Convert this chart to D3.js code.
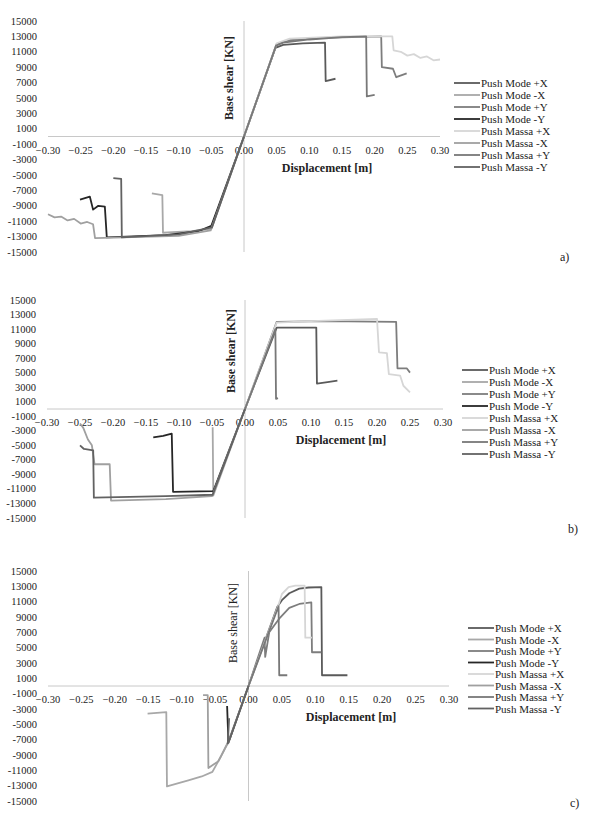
<!DOCTYPE html>
<html>
<head>
<meta charset="utf-8">
<script src="https://cdn.jsdelivr.net/npm/d3@7"></script>
<style>
    body { margin: 0; background: #fff; }
    text { font-family: "Liberation Serif", "Times New Roman", serif; }
</style>
</head>
<body>
<div id="chart"></div>
<script>
// legend / series
var seriesNames = ["Push Mode +X", "Push Mode -X", "Push Mode +Y", "Push Mode -Y",
                   "Push Massa +X", "Push Massa -X", "Push Massa +Y", "Push Massa -Y"];
var seriesColors = ["#5a5a5a", "#a8a8a8", "#7d7d7d", "#262626",
                    "#d6d6d6", "#a0a0a0", "#787878", "#626262"];

var xTicks = [-0.30, -0.25, -0.20, -0.15, -0.10, -0.05, 0.00, 0.05, 0.10, 0.15, 0.20, 0.25, 0.30];
var yTicks = [15000, 13000, 11000, 9000, 7000, 5000, 3000, 1000,
              -1000, -3000, -5000, -7000, -9000, -11000, -13000, -15000];

// panel a) [displacement, base shear]
var aModePX = [[0,0],[0.048,11500],[0.06,11900],[0.09,12100],[0.124,12200],[0.125,7200],[0.14,7500]];
var aModeMX = [[0,0],[-0.05,-12000],[-0.08,-12300],[-0.124,-12500],[-0.125,-7600],[-0.141,-7400]];
var aModePY = [[0,0],[0.05,12000],[0.07,12500],[0.12,12800],[0.21,13000],[0.211,9000],[0.228,8800],[0.233,7700],[0.249,8200]];
var aModeMY = [[0,0],[-0.05,-11600],[-0.07,-12300],[-0.12,-12800],[-0.21,-13100],[-0.213,-9100],[-0.223,-9000],[-0.231,-9500],[-0.236,-7800],[-0.251,-8200]];
var aMassaPX = [[0,0],[0.05,12100],[0.07,12700],[0.15,13000],[0.227,13000],[0.229,11200],[0.24,11000],[0.25,10500],[0.26,10700],[0.27,10200],[0.28,10400],[0.29,9900],[0.30,10000]];
var aMassaMX = [[0,0],[-0.051,-12200],[-0.1,-12900],[-0.228,-13200],[-0.231,-11400],[-0.24,-11100],[-0.25,-11300],[-0.26,-10700],[-0.27,-10900],[-0.28,-10400],[-0.29,-10500],[-0.30,-10100]];
var aMassaPY = [[0,0],[0.049,11800],[0.06,12200],[0.1,12600],[0.15,12900],[0.187,13000],[0.188,5200],[0.2,5400]];
var aMassaMY = [[0,0],[-0.049,-11800],[-0.1,-12700],[-0.187,-13100],[-0.188,-5500],[-0.2,-5400]];

// panel b)
var bModePX = [[0,0],[0.048,11200],[0.108,11200],[0.109,3500],[0.125,3700],[0.14,3900]];
var bModeMX = [[0,0],[-0.048,-11900],[-0.049,-2500]];
var bModePY = [[0,0],[0.048,12000],[0.12,12100],[0.229,12000],[0.231,5600],[0.245,5600],[0.25,5000]];
var bModeMY = [[0,0],[-0.048,-11300],[-0.109,-11400],[-0.111,-3400],[-0.124,-3700],[-0.139,-3900]];
var bMassaPX = [[0,0],[0.048,11900],[0.1,12100],[0.2,12400],[0.203,7800],[0.215,7700],[0.218,4800],[0.235,4600],[0.24,3200],[0.25,2300]];
var bMassaMX = [[0,0],[-0.05,-12000],[-0.12,-12400],[-0.203,-12600],[-0.205,-7600],[-0.228,-7600],[-0.232,-5000],[-0.238,-4200],[-0.245,-2600],[-0.25,-2000]];
var bMassaPY = [[0,0],[0.046,11000],[0.047,1400],[0.05,1500]];
var bMassaMY = [[0,0],[-0.049,-11800],[-0.12,-12000],[-0.229,-12200],[-0.23,-5700],[-0.244,-5500],[-0.25,-5000]];

// panel c)
var cModePX = [[0,0],[0.043,10300],[0.05,11200],[0.061,12100],[0.076,12700],[0.09,12850],[0.109,12900],[0.11,1400],[0.148,1400]];
var cModeMX = [[0,0],[-0.03,-7200],[-0.042,-9300],[-0.054,-11200],[-0.07,-11800],[-0.09,-12300],[-0.122,-13100],[-0.123,-3400],[-0.151,-3600]];
var cModePY = [[0,0],[0.024,6300],[0.025,3800],[0.031,7000],[0.047,8900],[0.061,10200],[0.076,10700],[0.094,10900],[0.095,4400],[0.109,4400]];
var cModeMY = [[0,0],[-0.03,-7400],[-0.032,-2600]];
var cMassaPX = [[0,0],[0.045,10600],[0.05,12000],[0.06,12900],[0.07,13100],[0.084,13100],[0.085,6300],[0.095,6300]];
var cMassaMX = [[0,0],[-0.03,-7300],[-0.045,-9800],[-0.06,-10700],[-0.061,-1200],[-0.068,-1200]];
var cMassaPY = [[0,0],[0.045,10400],[0.046,1400],[0.058,1400]];
var cMassaMY = [[0,0],[-0.028,-6900],[-0.031,-7500],[-0.029,-4200]];

var panelSeries = [
    [aModePX, aModeMX, aModePY, aModeMY, aMassaPX, aMassaMX, aMassaPY, aMassaMY],
    [bModePX, bModeMX, bModePY, bModeMY, bMassaPX, bMassaMX, bMassaPY, bMassaMY],
    [cModePX, cModeMX, cModePY, cModeMY, cMassaPX, cMassaMX, cMassaPY, cMassaMY]
];
var panelLabels = ["a)", "b)", "c)"];

// layout of each panel (pixels)
var layouts = [
    { left: 48, right: 440, top: 21, bottom: 252, legX: 454, legY: 83, legStep: 12,
      dispX: 327, yTitleX: 233, yTitleY: 78, yTitleBold: true, tagX: 560, tagY: 261 },
    { left: 47, right: 443, top: 300, bottom: 518, legX: 462, legY: 370, legStep: 12,
      dispX: 341, yTitleX: 235, yTitleY: 351, yTitleBold: true, tagX: 568, tagY: 533 },
    { left: 48, right: 449, top: 571, bottom: 801, legX: 468, legY: 628, legStep: 11.5,
      dispX: 351, yTitleX: 237, yTitleY: 623, yTitleBold: false, tagX: 570, tagY: 807 }
];

var svg = d3.select("#chart").append("svg")
    .attr("width", 600)
    .attr("height", 816);

layouts.forEach(function(L, p)
{
    var x = d3.scaleLinear().domain([-0.3, 0.3]).range([L.left, L.right]);
    var y = d3.scaleLinear().domain([-15000, 15000]).range([L.bottom, L.top]);
    var g = svg.append("g");

    // axis lines through the origin
    g.append("line")
        .attr("x1", x(-0.3)).attr("x2", x(0.3))
        .attr("y1", y(0)).attr("y2", y(0))
        .style("stroke", "#c8c8c8").style("stroke-width", 1);
    g.append("line")
        .attr("x1", x(0)).attr("x2", x(0))
        .attr("y1", y(15000)).attr("y2", y(-15000))
        .style("stroke", "#c8c8c8").style("stroke-width", 1);

    // y tick labels
    g.selectAll(".ylab")
        .data(yTicks)
        .enter().append("text")
        .attr("class", "ylab")
        .attr("x", L.left - 11)
        .attr("y", function(d) { return y(d) + 3.5; })
        .attr("text-anchor", "end")
        .attr("font-size", "10.5px")
        .style("fill", "#222")
        .text(function(d) { return d; });

    // x tick labels
    g.selectAll(".xlab")
        .data(xTicks)
        .enter().append("text")
        .attr("class", "xlab")
        .attr("x", function(d) { return x(d); })
        .attr("y", y(0) + 17)
        .attr("text-anchor", "middle")
        .attr("font-size", "10.5px")
        .style("fill", "#222")
        .text(function(d) { return d3.format(".2f")(d); });

    // axis titles
    g.append("text")
        .attr("x", L.dispX)
        .attr("y", y(0) + 35)
        .attr("text-anchor", "middle")
        .attr("font-size", "12px")
        .attr("font-weight", "bold")
        .style("fill", "#222")
        .text("Displacement [m]");
    g.append("text")
        .attr("transform", "translate(" + L.yTitleX + "," + L.yTitleY + ") rotate(-90)")
        .attr("text-anchor", "middle")
        .attr("font-size", "12px")
        .attr("font-weight", L.yTitleBold ? "bold" : "normal")
        .style("fill", "#222")
        .text("Base shear [KN]");

    // curves
    var line = d3.line()
        .x(function(d) { return x(d[0]); })
        .y(function(d) { return y(d[1]); });

    g.selectAll(".curve")
        .data(panelSeries[p])
        .enter().append("path")
        .attr("class", "curve")
        .attr("d", line)
        .style("fill", "none")
        .style("stroke", function(d, i) { return seriesColors[i]; })
        .style("stroke-width", 1.8)
        .style("stroke-linejoin", "round");

    // legend
    var leg = g.selectAll(".leg")
        .data(seriesNames)
        .enter().append("g")
        .attr("class", "leg")
        .attr("transform", function(d, i) { return "translate(" + L.legX + "," + (L.legY + i * L.legStep) + ")"; });
    leg.append("line")
        .attr("x1", 0).attr("x2", 26)
        .style("stroke", function(d, i) { return seriesColors[i]; })
        .style("stroke-width", 1.8);
    leg.append("text")
        .attr("x", 27)
        .attr("y", 4)
        .attr("font-size", "11px")
        .style("fill", "#222")
        .text(function(d) { return d; });

    // panel tag
    g.append("text")
        .attr("x", L.tagX)
        .attr("y", L.tagY)
        .attr("font-size", "12px")
        .style("fill", "#222")
        .text(panelLabels[p]);
});
</script>
</body>
</html>
